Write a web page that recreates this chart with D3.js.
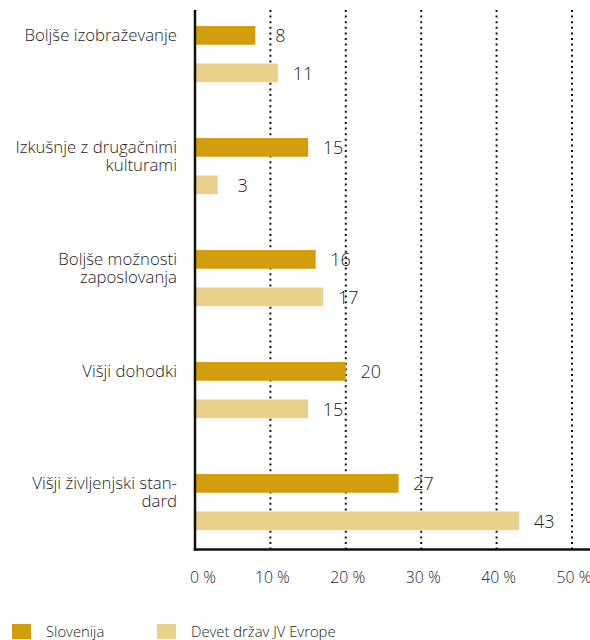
<!DOCTYPE html>
<html>
<head>
<meta charset="utf-8">
<script src="https://cdn.jsdelivr.net/npm/d3@7"></script>
<style>
  body { margin: 0; background: #fff; }
  svg { display: block; font-family: "Open Sans", sans-serif; font-weight: 300; }
</style>
</head>
<body>
<div id="chart"></div>
<script>
// data
const categories = [
  ["Boljše izobraževanje"],
  ["Izkušnje z drugačnimi", "kulturami"],
  ["Boljše možnosti", "zaposlovanja"],
  ["Višji dohodki"],
  ["Višji življenjski stan-", "dard"]
];
const seriesNames = ["Slovenija", "Devet držav JV Evrope"];
const slovenija = [8, 15, 16, 20, 27];
const jvEvropa = [11, 3, 17, 15, 43];
const xTicks = [0, 10, 20, 30, 40, 50];

const width = 590, height = 640;
const colors = ["#d39e0c", "#e9d08b"];
const ink = "#1c1c1c";

const svg = d3.select("#chart").append("svg")
  .attr("width", width)
  .attr("height", height);

const x = d3.scaleLinear().domain([0, 50]).range([195, 572]);

const keys = categories.map(c => c.join(" "));
const y0 = d3.scaleBand().domain(keys).range([-1.5, 558.5]);
const y1 = d3.scaleBand().domain(seriesNames).range([27.5, 83.7]).paddingInner(0.5);

const rows = keys.map((k, i) => ({ key: k, lines: categories[i], values: [slovenija[i], jvEvropa[i]] }));

const plotTop = 10, plotBottom = 549.5;

// dotted grid
svg.append("g")
  .selectAll("line")
  .data(xTicks.filter(d => d > 0))
  .join("line")
  .attr("x1", d => x(d)).attr("x2", d => x(d))
  .attr("y1", plotTop).attr("y2", plotBottom)
  .attr("stroke", "#111")
  .attr("stroke-width", 2)
  .attr("stroke-dasharray", "2,3.6");

// bars + values
const groups = svg.append("g")
  .selectAll("g")
  .data(rows)
  .join("g")
  .attr("transform", d => `translate(0,${y0(d.key)})`);

groups.selectAll("rect")
  .data(d => d.values.map((v, j) => ({ name: seriesNames[j], v, j })))
  .join("rect")
  .attr("x", x(0) - 1)
  .attr("y", d => y1(d.name))
  .attr("width", d => x(d.v) - x(0) + 1)
  .attr("height", y1.bandwidth())
  .attr("fill", d => colors[d.j]);

groups.selectAll("text.val")
  .data(d => d.values.map((v, j) => ({ name: seriesNames[j], v, j })))
  .join("text")
  .attr("class", "val")
  .attr("x", d => x(d.v) + 25)
  .attr("y", d => y1(d.name) + y1.bandwidth() / 2)
  .attr("dy", "0.38em")
  .attr("text-anchor", "middle")
  .attr("font-size", 18)
  .attr("fill", ink)
  .text(d => d.v);

// category labels
groups.append("text")
  .attr("x", 177)
  .attr("y", y1(seriesNames[0]) + y1.bandwidth() / 2 + 6)
  .attr("text-anchor", "end")
  .attr("font-size", 16.8)
  .attr("fill", ink)
  .selectAll("tspan")
  .data(d => d.lines)
  .join("tspan")
  .attr("x", 177)
  .attr("dy", (d, i) => i === 0 ? 0 : 17.8)
  .text(d => d);

// axes
svg.append("line")
  .attr("x1", x(0)).attr("x2", x(0))
  .attr("y1", plotTop).attr("y2", plotBottom + 1.2)
  .attr("stroke", "#111").attr("stroke-width", 2.5);
svg.append("line")
  .attr("x1", x(0) - 1.2).attr("x2", width)
  .attr("y1", plotBottom).attr("y2", plotBottom)
  .attr("stroke", "#111").attr("stroke-width", 2.5);

svg.append("g")
  .selectAll("text")
  .data(xTicks)
  .join("text")
  .attr("x", (d, i) => x(d) + (i === 0 ? 8 : 2))
  .attr("y", 583)
  .attr("text-anchor", "middle")
  .attr("font-size", 15.8)
  .attr("fill", ink)
  .text(d => d + " %");

// legend
const legend = svg.append("g")
  .selectAll("g")
  .data(seriesNames)
  .join("g")
  .attr("transform", (d, i) => `translate(${[12, 157][i]},624)`);
legend.append("rect")
  .attr("width", 19).attr("height", 15)
  .attr("fill", (d, i) => colors[i]);
legend.append("text")
  .attr("x", 34).attr("y", 12.5)
  .attr("font-size", 14.8)
  .attr("fill", ink)
  .text(d => d);
</script>
</body>
</html>
